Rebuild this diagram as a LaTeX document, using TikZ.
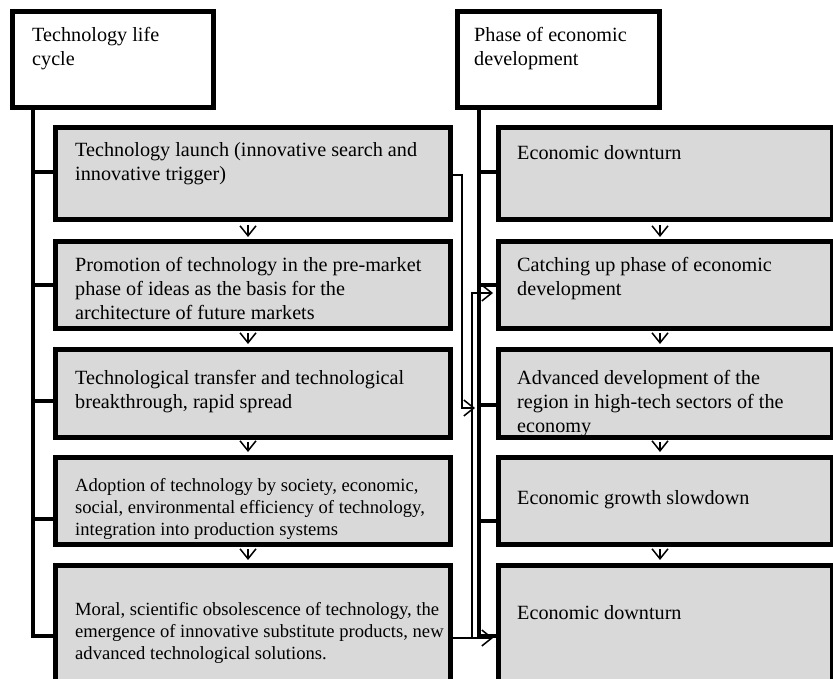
\documentclass[tikz,border=0pt]{standalone}
\usepackage{fontspec}
\setmainfont{Liberation Serif}
\usetikzlibrary{arrows.meta}
\definecolor{boxgray}{RGB}{217,217,217}
\begin{document}
\begin{tikzpicture}[x=1pt,y=-1pt,
  hdr/.style={draw=black,line width=5pt,fill=white,rectangle,anchor=north west,inner sep=0pt},
  gbox/.style={draw=black,line width=5pt,fill=boxgray,rectangle,anchor=north west,inner sep=0pt},
  txt/.style={anchor=north west,inner sep=0pt,align=left,font=\fontsize{20.2}{24}\selectfont,execute at begin node=\strut},
  txts/.style={anchor=north west,inner sep=0pt,align=left,font=\fontsize{18.6}{22}\selectfont,execute at begin node=\strut},
  brk/.style={line width=4pt,draw=black},
  conn/.style={line width=1.5pt,draw=black},
  barb/.style={-{Straight Barb[length=10pt,width=16pt,line width=1.5pt]}},
  tip/.style={barb,shorten >=2.5pt}
]
\useasboundingbox (0,0) rectangle (833,679);
% headers
\node[hdr,minimum width=201pt,minimum height=96pt] (LH) at (9.5,9.5) {};
\node[hdr,minimum width=202pt,minimum height=96pt] (RH) at (454.5,9.5) {};
% left boxes
\node[gbox,minimum width=395pt,minimum height=92pt] (L1) at (52.5,125.5) {};
\node[gbox,minimum width=395pt,minimum height=86pt] (L2) at (52.5,239.5) {};
\node[gbox,minimum width=395pt,minimum height=88pt] (L3) at (52.5,346.5) {};
\node[gbox,minimum width=395pt,minimum height=87pt] (L4) at (52.5,454.5) {};
\node[gbox,minimum width=395pt,minimum height=125pt] (L5) at (52.5,562.5) {};
% right boxes
\node[gbox,minimum width=334pt,minimum height=92pt] (R1) at (495.5,125.5) {};
\node[gbox,minimum width=334pt,minimum height=86pt] (R2) at (495.5,239.5) {};
\node[gbox,minimum width=334pt,minimum height=88pt] (R3) at (495.5,346.5) {};
\node[gbox,minimum width=334pt,minimum height=87pt] (R4) at (495.5,454.5) {};
\node[gbox,minimum width=334pt,minimum height=125pt] (R5) at (495.5,562.5) {};
% texts
\node[txt] (tLH) at (32,27.2) {Technology life\\cycle};
\node[txt] (tRH) at (474,27.2) {Phase of economic\\development};
\node[txt] (tL1) at (75,142.2) {Technology launch (innovative search and\\innovative trigger)};
\node[txt] (tL2) at (75,257.2) {Promotion of technology in the pre-market\\phase of ideas as the basis for the\\architecture of future markets};
\node[txt] (tL3) at (75,370.2) {Technological transfer and technological\\breakthrough, rapid spread};
\node[txts] (tL4) at (75,478) {Adoption of technology by society, economic,\\social, environmental efficiency of technology,\\integration into production systems};
\node[txts] (tL5) at (75,602) {Moral, scientific obsolescence of technology, the\\emergence of innovative substitute products, new\\advanced technological solutions.};
\node[txt] (tR1) at (517,142.2) {Economic downturn};
\node[txt] (tR2) at (517,257.2) {Catching up phase of economic\\development};
\node[txt] (tR3) at (517,370.2) {Advanced development of the\\region in high-tech sectors of the\\economy};
\node[txt] (tR4) at (517,487.2) {Economic growth slowdown};
\node[txt] (tR5) at (517,602.2) {Economic downturn};
% vertical arrows between boxes
\coordinate (xl) at (248,0);
\coordinate (xr) at (660,0);
\foreach \a/\b in {L1/L2,L2/L3,L3/L4,L4/L5}
  \draw[conn,tip,shorten <=2.5pt] (\a.south -| xl) -- (\b.north -| xl);
\foreach \a/\b in {R1/R2,R2/R3,R3/R4,R4/R5}
  \draw[conn,tip,shorten <=2.5pt] (\a.south -| xr) -- (\b.north -| xr);
% left bracket
\coordinate (lb) at (33,636);
\draw[brk] (LH.south -| lb) -- (lb) -- (lb -| L5.west);
\coordinate (lt1) at (33,172);
\coordinate (lt2) at (33,285);
\coordinate (lt3) at (33,401);
\coordinate (lt4) at (33,519);
\draw[brk] (lt1) -- (lt1 -| L1.west);
\draw[brk] (lt2) -- (lt2 -| L2.west);
\draw[brk] (lt3) -- (lt3 -| L3.west);
\draw[brk] (lt4) -- (lt4 -| L4.west);
% right bracket
\coordinate (rb) at (478.5,636);
\draw[brk] (RH.south -| rb) -- (rb) -- (rb -| R5.west);
\coordinate (rt1) at (478.5,172);
\coordinate (rt2) at (478.5,285);
\coordinate (rt3) at (478.5,405);
\coordinate (rt4) at (478.5,521);
\draw[brk] (rt1) -- (rt1 -| R1.west);
\draw[brk] (rt2) -- (rt2 -| R2.west);
\draw[brk] (rt3) -- (rt3 -| R3.west);
\draw[brk] (rt4) -- (rt4 -| R4.west);
% cross connectors
\coordinate (c1) at (462,175);
\coordinate (c2) at (462,408);
\coordinate (c3) at (475,408);
\draw[conn,barb] (c1 -| L1.east) -- (c1) -- (c2) -- (c3);
\coordinate (d1) at (472,638);
\coordinate (d2) at (472,293);
\draw[conn,tip] (d1 -| L5.east) -- (d1 -| R5.west);
\draw[conn,tip] (d1) -- (d2) -- (d2 -| R2.west);
\end{tikzpicture}
\end{document}
